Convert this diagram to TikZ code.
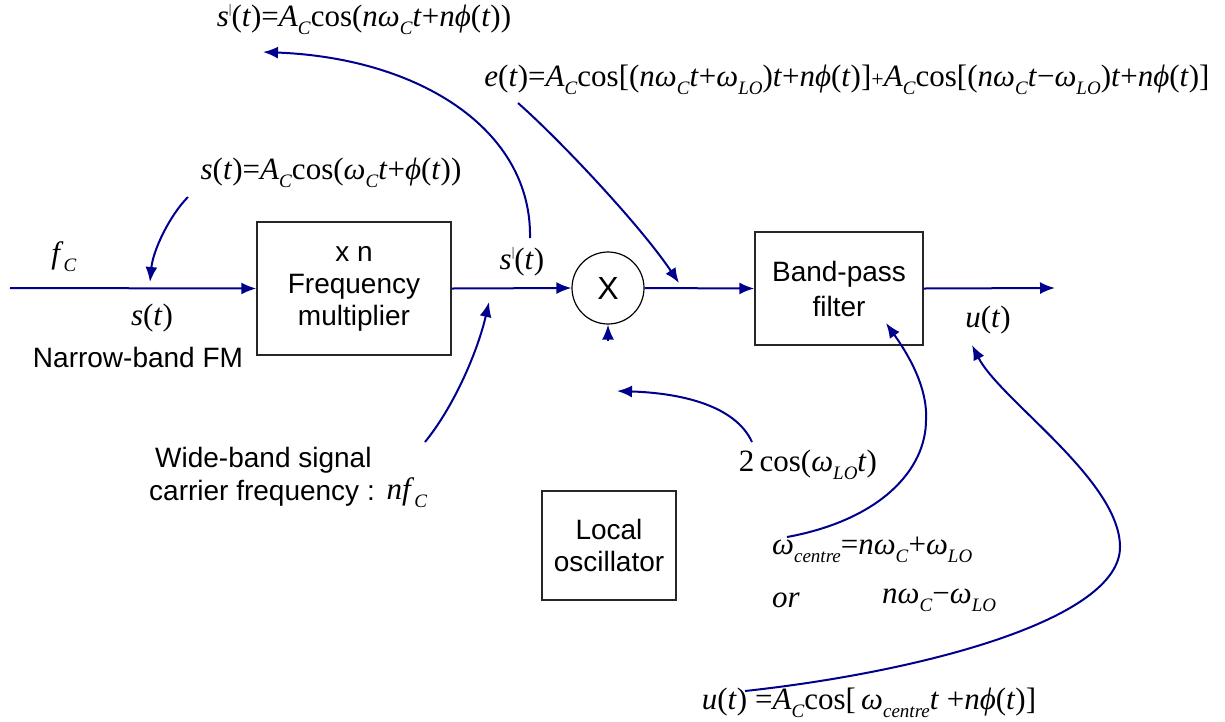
\documentclass[tikz,border=0pt]{standalone}
\usepackage{fontspec}
\setmainfont{Liberation Serif}
\newfontfamily\arial{Liberation Sans}
\usetikzlibrary{arrows.meta}
\definecolor{wire}{RGB}{0,0,140}

% formula helpers
\newcommand\iv[1]{\textit{#1}}
\newcommand\sbs[1]{\raisebox{-0.26em}{\fontsize{19}{19}\selectfont\textit{#1}}}
\newcommand\om{\textit{ω}}
\newcommand\ph{\textit{ϕ}}
\newcommand\pr{\raisebox{0.42em}{\fontsize{13}{13}\selectfont|}}

\tikzset{
  wire/.style={draw=wire, line width=2pt, -{Latex[length=15pt,width=12pt]}},
  block/.style={draw=black!85, line width=1.4pt, align=center, inner sep=0pt,
                font=\arial\fontsize{28}{32}\selectfont},
  mixer/.style={draw=black, circle, line width=1.2pt, minimum size=72pt, inner sep=0pt,
                font=\arial\fontsize{32}{32}\selectfont},
  eq/.style={inner sep=0pt, font=\fontsize{31}{34}\selectfont},
  sans/.style={inner sep=0pt, align=center, font=\arial\fontsize{28}{32}\selectfont},
}

\begin{document}
\begin{tikzpicture}[x=1pt, y=-1pt]
\useasboundingbox (0,0) rectangle (1225,721);

% blocks
\node[block, minimum width=194pt, minimum height=133pt] (mult) at (354,288.5) {x n\\Frequency\\multiplier};
\node[mixer] (mix) at (608,288) {X};
\node[block, minimum width=168pt, minimum height=113pt, font=\arial\fontsize{28}{35}\selectfont] (bpf) at (839,288.5) {Band-pass\\filter};
\node[block, minimum width=134pt, minimum height=109pt] (lo) at (609,545.5) {Local\\oscillator};

% signal path
\coordinate (in) at (10,288);
\coordinate (out) at (1055,288);
\coordinate (mixin) at (608,341);
\draw[wire] (in) -- (mult.west);
\draw[wire] (mult.east) -- (mix.west);
\draw[wire] (mix.east) -- (bpf.west);
\draw[wire] (bpf.east) -- (out);
\draw[wire] (mixin) -- (mix.south);

% labels
\node[eq] (fc) at (64,257) {\iv{f}\sbs{C}};
\node[eq] (st) at (152,318) {\iv{s}(\iv{t})};
\node[sans] (nbfm) at (138,357) {Narrow-band FM};
\node[eq] (sp) at (522,262) {\iv{s}\pr(\iv{t})};
\node[eq] (ut) at (988,320) {\iv{u}(\iv{t})};
\node[sans, align=left, anchor=west] (wb1) at (155,460) {Wide-band signal};
\node[sans, anchor=west] (wb2) at (149,493) {carrier frequency :};
\node[eq] (nfc) at (407,493) {\iv{nf}\sbs{C}};

\node[eq] (sform) at (331,173) {\iv{s}(\iv{t})=\iv{A}\sbs{C}cos(\om\sbs{C}\iv{t}+\ph(\iv{t}))};
\node[eq] (spform) at (364,20) {\iv{s}\pr(\iv{t})=\iv{A}\sbs{C}cos(\iv{n}\om\sbs{C}\iv{t}+\iv{n}\ph(\iv{t}))};
\node[eq] (eform) at (847,80) {\iv{e}(\iv{t})=\iv{A}\sbs{C}cos[(\iv{n}\om\sbs{C}\iv{t}+\om\sbs{LO})\iv{t}+\iv{n}\ph(\iv{t})]{\fontsize{22}{22}\selectfont+}\iv{A}\sbs{C}cos[(\iv{n}\om\sbs{C}\iv{t}−\om\sbs{LO})\iv{t}+\iv{n}\ph(\iv{t})]};
\node[eq] (loform) at (808,465) {2\,cos(\om\sbs{LO}\iv{t})};
\node[eq, anchor=west] (wc) at (772,550) {\om\sbs{centre}=\iv{n}\om\sbs{C}+\om\sbs{LO}};
\node[eq, anchor=west] (orw) at (772,600) {\iv{or}};
\node[eq, anchor=west] (wc2) at (882,600) {\iv{n}\om\sbs{C}−\om\sbs{LO}};
\node[eq] (uform) at (869,703) {\iv{u}(\iv{t}) =\iv{A}\sbs{C}cos[\,\om\sbs{centre}\iv{t} +\iv{n}\ph(\iv{t})]};

% annotation arrows
\coordinate (a1s) at (188,197);  \coordinate (a1e) at (150,282);
\draw[wire] (a1s) .. controls (170,215) and (153,250) .. (a1e);
\coordinate (a2s) at (530,238);  \coordinate (a2e) at (263,52);
\draw[wire] (a2s) .. controls (532,130) and (420,58) .. (a2e);
\coordinate (a3s) at (518,103);  \coordinate (a3e) at (679,283);
\draw[wire] (a3s) .. controls (560,140) and (640,225) .. (a3e);
\coordinate (a4s) at (425,442);  \coordinate (a4e) at (489,302);
\draw[wire] (a4s) .. controls (455,405) and (478,350) .. (a4e);
\coordinate (a5s) at (752,442);  \coordinate (a5e) at (617,391);
\draw[wire] (a5s) .. controls (735,405) and (680,393) .. (a5e);
\coordinate (a6s) at (787,537);  \coordinate (a6m) at (926,420);  \coordinate (a6e) at (886,323);
\draw[wire] (a6s) .. controls (880,520) and (926,470) .. (a6m) .. controls (928,385) and (905,350) .. (a6e);
\coordinate (a7s) at (745,691);  \coordinate (a7m) at (1120,547);  \coordinate (a7e) at (972,345);
\draw[wire] (a7s) .. controls (920,672) and (1120,620) .. (a7m) .. controls (1120,480) and (1000,400) .. (a7e);
\end{tikzpicture}
\end{document}
